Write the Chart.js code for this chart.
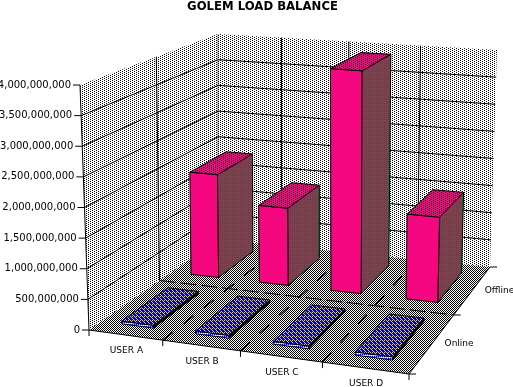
<!DOCTYPE html>
<html lang="en">
<head>
<meta charset="UTF-8">
<title>Golem Load Balance</title>
<script src="https://cdn.jsdelivr.net/npm/chart.js@4/dist/chart.umd.min.js"></script>
<style>
    body { margin: 0; background: #fff; }
    canvas { display: block; }
</style>
</head>
<body>
<canvas id="chart" width="513" height="387"></canvas>
<script>
const users = ['USER A', 'USER B', 'USER C', 'USER D'];
const depths = ['Online', 'Offline'];
const onlineValues = [45000000, 45000000, 45000000, 50000000];
const offlineValues = [1850000000, 1370000000, 3900000000, 1470000000];
const yMax = 4000000000;
const yStep = 500000000;

// screen corners of the 3d box: front-left, front-right, back-right, back-left
const floorQuad = [[89, 330], [409, 374], [490, 267], [218, 239.5]];
const topQuad = [[80, 85], [413, 114], [497, 50], [218, 34]];
const depthShares = [0.67, 0.62];

function quadMap(q) {
    const [[x0, y0], [x1, y1], [x2, y2], [x3, y3]] = q;
    const dx1 = x1 - x2, dx2 = x3 - x2, sx = x0 - x1 + x2 - x3;
    const dy1 = y1 - y2, dy2 = y3 - y2, sy = y0 - y1 + y2 - y3;
    const den = dx1 * dy2 - dx2 * dy1;
    const g = (sx * dy2 - dx2 * sy) / den;
    const h = (dx1 * sy - sx * dy1) / den;
    const a = x1 - x0 + g * x1, b = x3 - x0 + h * x3;
    const d = y1 - y0 + g * y1, e = y3 - y0 + h * y3;
    return (u, w) => {
        const t = g * u + h * w + 1;
        return [(a * u + b * w + x0) / t, (d * u + e * w + y0) / t];
    };
}
const onFloor = quadMap(floorQuad);
const onTop = quadMap(topQuad);

function project(u, w, h) {
    const p = onFloor(u, w), q = onTop(u, w);
    return [p[0] + (q[0] - p[0]) * h, p[1] + (q[1] - p[1]) * h];
}

// 1 bit style dither fills
function dither(ctx, rows) {
    const c = document.createElement('canvas');
    c.width = rows[0].length;
    c.height = rows.length;
    const g = c.getContext('2d');
    rows.forEach((row, y) => row.forEach((col, x) => {
        g.fillStyle = col;
        g.fillRect(x, y, 1, 1);
    }));
    return ctx.createPattern(c, 'repeat');
}

function face(ctx, pts, fill) {
    ctx.beginPath();
    pts.forEach((p, i) => i ? ctx.lineTo(p[0], p[1]) : ctx.moveTo(p[0], p[1]));
    ctx.closePath();
    if (fill) {
        ctx.fillStyle = fill;
        ctx.fill();
    }
    ctx.stroke();
}

function line(ctx, a, b) {
    ctx.beginPath();
    ctx.moveTo(a[0], a[1]);
    ctx.lineTo(b[0], b[1]);
    ctx.stroke();
}

const box3d = {
    id: 'box3d',
    beforeDatasetsDraw(chart) {
        const ctx = chart.ctx;
        const { x, y, z } = chart.scales;
        const k = '#000', W = '#fff', P = '#f5087f', G = '#008020', B = '#0000d8', Y = '#e8d400', L = '#8ea0ff';
        const wallFill = dither(ctx, [[k, W, W, W], [W, W, k, W]]);
        const floorFill = dither(ctx, [[k, W], [W, k]]);
        const barFills = [
            {
                front: dither(ctx, [[B, L], [L, W]]),
                side: k,
                top: dither(ctx, [[Y, B, Y, B], [B, B, B, Y], [Y, B, B, B], [B, Y, B, B]])
            },
            {
                front: P,
                side: dither(ctx, [[G, P], [G, G]]),
                top: dither(ctx, [[P, k, P, P], [P, P, P, k]])
            }
        ];
        const nx = x.ticks.length, nz = z.ticks.length;

        ctx.save();
        ctx.lineWidth = 1;

        // walls and floor
        ctx.strokeStyle = 'rgba(0,0,0,0)';
        face(ctx, [project(0, 0, 0), project(0, 1, 0), project(0, 1, 1), project(0, 0, 1)], wallFill);
        face(ctx, [project(0, 1, 0), project(1, 1, 0), project(1, 1, 1), project(0, 1, 1)], wallFill);
        face(ctx, [project(0, 0, 0), project(1, 0, 0), project(1, 1, 0), project(0, 1, 0)], floorFill);
        ctx.strokeStyle = k;

        // value gridlines and ticks
        ctx.font = '10px "DejaVu Sans"';
        ctx.textAlign = 'right';
        ctx.textBaseline = 'middle';
        ctx.fillStyle = k;
        y.ticks.forEach(t => {
            const h = (y.bottom - y.getPixelForValue(t.value)) / y.height;
            const a = project(0, 0, h);
            if (h > 0 && h < 1) {
                line(ctx, a, project(0, 1, h));
                line(ctx, project(0, 1, h), project(1, 1, h));
            }
            line(ctx, [a[0] - 7, a[1]], a);
            ctx.fillText(t.label, a[0] - 9, a[1]);
        });

        // wall verticals
        for (let i = 1; i < nx; i++) line(ctx, project(i / nx, 1, 0), project(i / nx, 1, 1));
        for (let j = 1; j < nz; j++) line(ctx, project(0, j / nz, 0), project(0, j / nz, 1));
        ctx.setLineDash([1, 1]);
        line(ctx, project(0, 1, 0), project(0, 1, 1));
        ctx.setLineDash([]);
        line(ctx, project(0, 0, 0), project(0, 0, 1));

        // floor lines, broken up by the dither in the original
        ctx.lineWidth = 1.5;
        ctx.setLineDash([13, 13]);
        for (let i = 1; i < nx; i++) line(ctx, project(i / nx, 0, 0), project(i / nx, 1, 0));
        ctx.lineWidth = 1;
        ctx.setLineDash([16, 5]);
        for (let j = 1; j < nz; j++) line(ctx, project(0, j / nz, 0), project(1, j / nz, 0));
        ctx.setLineDash([]);
        line(ctx, project(0, 0, 0), project(1, 0, 0));
        line(ctx, project(1, 0, 0), project(1, 1, 0));

        // axis ticks and labels
        ctx.font = '9px "DejaVu Sans"';
        ctx.textAlign = 'center';
        for (let i = 0; i <= nx; i++) {
            const a = project(i / nx, 0, 0);
            line(ctx, a, [a[0], a[1] + 6]);
        }
        x.ticks.forEach((t, i) => {
            const a = project((x.getPixelForValue(i) - x.left) / x.width, 0, 0);
            ctx.fillText(x.getLabels()[i], a[0] + 1, a[1] + 16);
        });
        for (let j = 0; j <= nz; j++) {
            const a = project(1, j / nz, 0);
            line(ctx, a, [a[0] + 7, a[1]]);
        }
        ctx.textAlign = 'left';
        z.ticks.forEach((t, j) => {
            const a = project(1, (z.getPixelForValue(j) - z.left) / z.width, 0);
            ctx.fillText(z.getLabels()[j], a[0] + 12, a[1] + 1);
        });

        // bars, back row first
        for (let d = chart.data.datasets.length - 1; d >= 0; d--) {
            const meta = chart.getDatasetMeta(d);
            const band = z.width / nz;
            const zMid = (z.getPixelForValue(d) - z.left) / z.width;
            const w0 = zMid - depthShares[d] * band / z.width / 2;
            const w1 = zMid + depthShares[d] * band / z.width / 2;
            meta.data.forEach(el => {
                const u0 = (el.x - el.width / 2 - x.left) / x.width;
                const u1 = (el.x + el.width / 2 - x.left) / x.width;
                const h = (el.base - el.y) / y.height;
                const f = barFills[d];
                face(ctx, [project(u0, w0, 0), project(u1, w0, 0), project(u1, w0, h), project(u0, w0, h)], f.front);
                face(ctx, [project(u1, w0, 0), project(u1, w1, 0), project(u1, w1, h), project(u1, w0, h)], f.side);
                face(ctx, [project(u0, w0, h), project(u1, w0, h), project(u1, w1, h), project(u0, w1, h)], f.top);
            });
        }
        ctx.restore();
        return false;
    }
};

new Chart(document.getElementById('chart'), {
    type: 'bar',
    data: {
        labels: users,
        datasets: [
            { label: depths[0], data: onlineValues, grouped: false, barPercentage: 0.44, categoryPercentage: 1 },
            { label: depths[1], data: offlineValues, grouped: false, barPercentage: 0.41, categoryPercentage: 1 }
        ]
    },
    options: {
        responsive: false,
        animation: false,
        events: [],
        layout: { padding: { left: 12 } },
        plugins: {
            legend: { display: false },
            tooltip: { enabled: false },
            title: {
                display: true,
                text: 'GOLEM LOAD BALANCE',
                color: '#000',
                font: { family: 'DejaVu Sans', size: 11.7, weight: 'bold' },
                padding: { top: 0, bottom: 4 }
            }
        },
        scales: {
            x: { type: 'category', display: false, offset: true },
            y: {
                type: 'linear', display: false, min: 0, max: yMax,
                ticks: { stepSize: yStep, callback: v => v.toLocaleString('en-US') }
            },
            z: { type: 'category', axis: 'x', display: false, offset: true, labels: depths }
        }
    },
    plugins: [box3d]
});
</script>
</body>
</html>
